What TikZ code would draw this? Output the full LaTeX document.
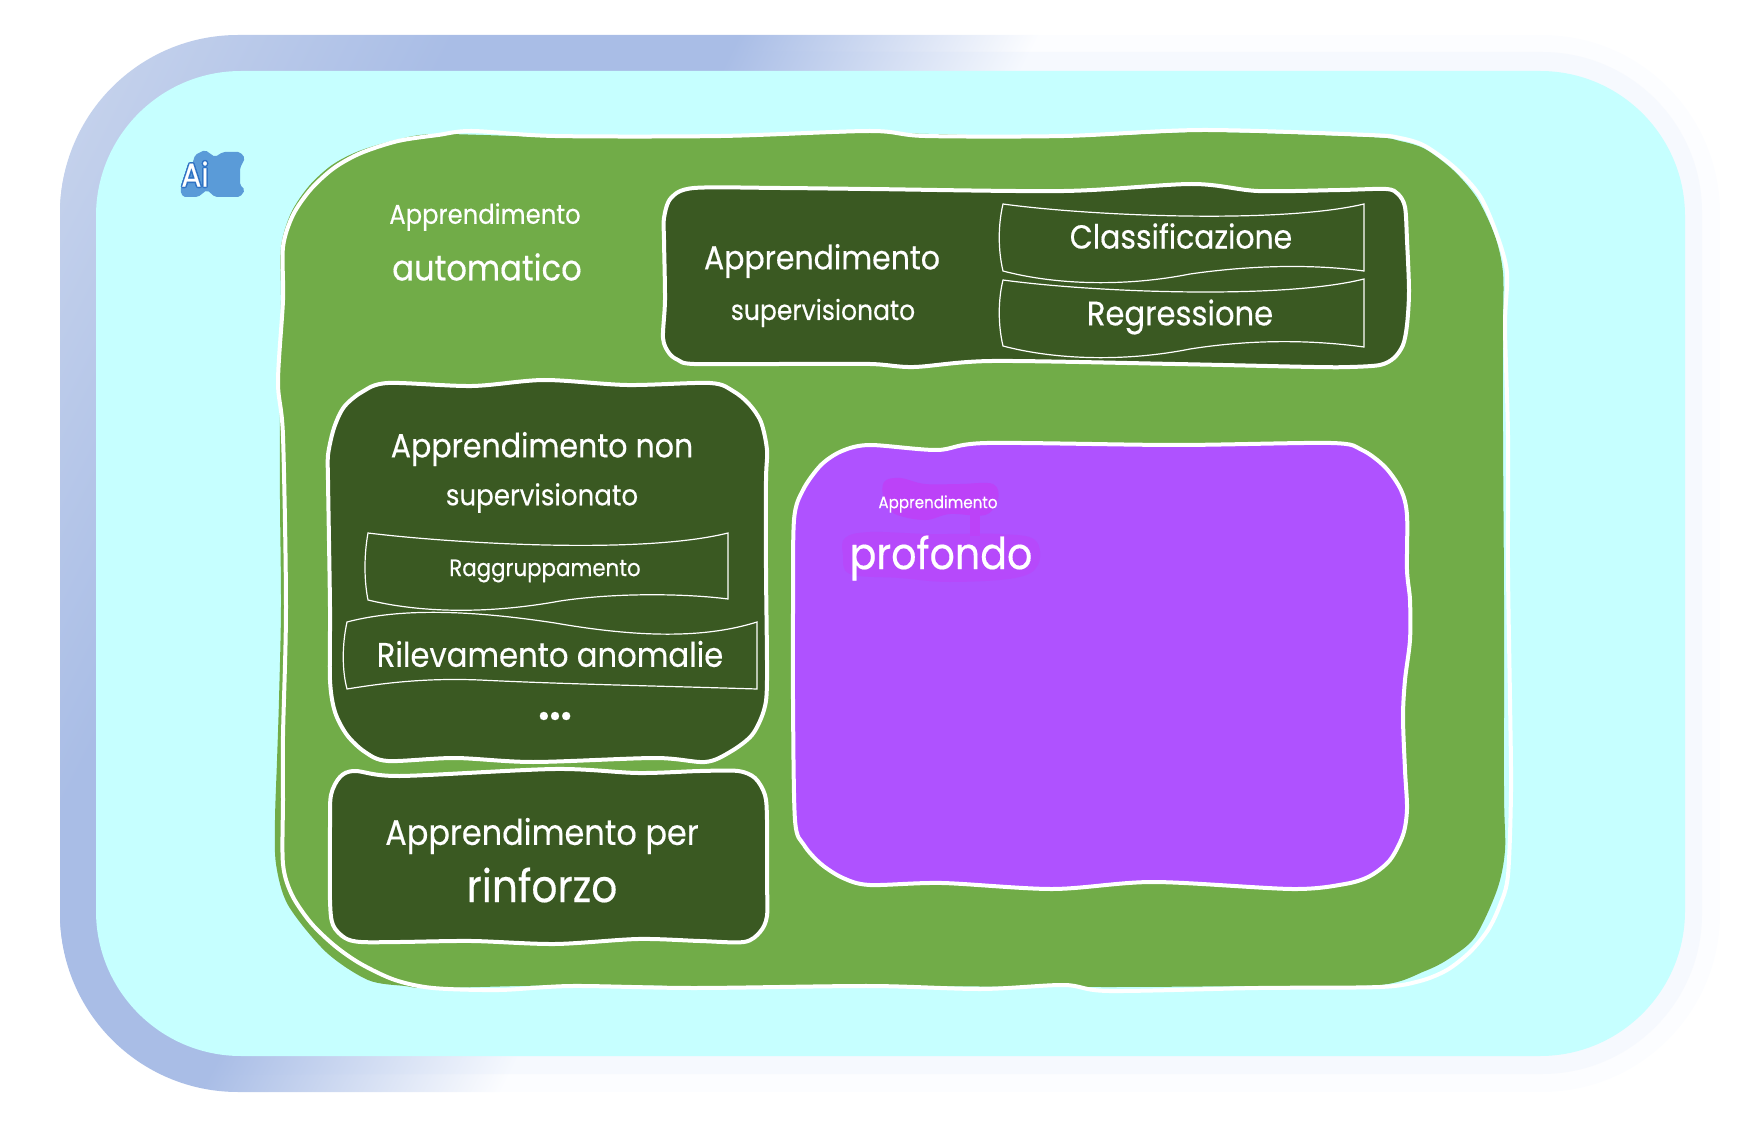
\documentclass[tikz,border=0pt]{standalone}
\usepackage{fontspec}
\setmainfont[FakeStretch=0.9,FakeBold=0.35]{Poppins}
\definecolor{cyanbg}{HTML}{C6FFFF}
\definecolor{leafgreen}{HTML}{71AC48}
\definecolor{darkgreen}{HTML}{3A5922}
\definecolor{violetbox}{HTML}{AF52FF}
\definecolor{violethalo}{HTML}{BC42F8}
\definecolor{logoblue}{HTML}{5A9BD8}
\definecolor{logoline}{HTML}{2F73C4}
\definecolor{frameA}{HTML}{C9D5EE}
\definecolor{frameB}{HTML}{C5D2EC}
\definecolor{frameC}{HTML}{A9BDE6}
\definecolor{frameD}{HTML}{FCFDFF}
\definecolor{frameE}{HTML}{F6F9FE}
\pgfdeclarehorizontalshading{frameouter}{100bp}{color(0bp)=(frameA); color(27bp)=(frameB); color(34.7bp)=(frameC); color(41bp)=(frameC); color(47.7bp)=(frameD); color(100bp)=(frameD)}
\pgfdeclarehorizontalshading{framemiddle}{100bp}{color(0bp)=(frameA); color(27bp)=(frameB); color(34.7bp)=(frameC); color(41bp)=(frameC); color(47.7bp)=(frameE); color(100bp)=(frameE)}
\tikzset{
  lab/.style={text=white, inner sep=0pt, font=\fontsize{#1}{#1}\selectfont},
  outlinebox/.style={draw=white, line width=4pt},
  bannerbox/.style={draw=white, line width=1.2pt},
  halo/.style={fill=violethalo},
}
\begin{document}
\begin{tikzpicture}[x=1pt,y=-1pt]
\useasboundingbox (0,0) rectangle (1741,1147);
% frame
\begin{scope}
  \clip[rounded corners=178pt] (60,35) rectangle (1720,1092);
  \shade[shading=frameouter, shading angle=-27] (-130,-430) rectangle (1870,1570);
\end{scope}
\begin{scope}
  \clip[rounded corners=160pt] (60,52) rectangle (1702,1074);
  \shade[shading=framemiddle, shading angle=-27] (-130,-430) rectangle (1870,1570);
\end{scope}
\fill[cyanbg, rounded corners=145pt] (96,71) rectangle (1685,1056);
% logo
\fill[logoblue, rounded corners=2pt] (195,155) -- (205,150) -- (215,157) -- (223,152) -- (240,152) -- (245,158) -- (240,168)
  -- (240,185) -- (245,190) -- (240,197) -- (215,197) -- (207,190) -- (198,197) -- (183,197) -- (180,190) -- (190,172) -- cycle;
\foreach \a in {0,45,...,315}
  \node[lab=33, text=logoline] at ([shift={(\a:1.5pt)}]195,174) {Ai};
\node[lab=33] (logo) at (195,174) {Ai};
% main green area
\fill[leafgreen] plot[smooth cycle, tension=0.5] coordinates {
  (281,300) (281,247) (291,213) (309,186) (332,165) (359,151) (396,140) (436,134) (555,137) (720,137) (870,133) (1064,137) (1203,132) (1369,137)
  (1400,141) (1425,149) (1453,170) (1477,198) (1495,236) (1503,273) (1503,330) (1503,436) (1504,600) (1504,791)
  (1505,850) (1497,890) (1475,937) (1450,958) (1425,971) (1380,985) (1258,986) (1109,987) (870,986) (694,986) (572,985) (433,988)
  (405,986) (368,980) (326,952) (288,905) (276,864) (275,820) (277,761) (279,700) (281,607) (280,500) (280,382)};
\draw[outlinebox] plot[smooth cycle, tension=0.5] coordinates {
  (283,300) (283,247) (293,215) (311,189) (334,168) (361,153) (398,141) (438,135) (472,131) (555,136) (721,136) (870,131) (925,136) (1064,136)
  (1203,130) (1369,135) (1400,138) (1425,146) (1455,168) (1480,196) (1497,235) (1507,273) (1505,327) (1508,436) (1508,570) (1510,700) (1511,791)
  (1508,875) (1500,905) (1488,930) (1470,952) (1447,970) (1420,981) (1380,987) (1258,988) (1109,991) (1064,985) (981,989) (870,986) (694,988)
  (572,986) (499,990) (433,988) (395,980) (361,964) (335,946) (311,923) (292,895) (283,864) (283,800) (283,736) (286,607) (283,436) (278,382)};
% supervised box
\draw[outlinebox, fill=darkgreen] plot[smooth cycle, tension=0.5] coordinates {
  (664,240) (664,218) (671,198) (694,188) (780,188) (870,189) (1064,191) (1192,184) (1258,191) (1340,190) (1386,189) (1398,194) (1405,207) (1407,240) (1409,291) (1407,325) (1403,345)
  (1394,358) (1380,365) (1350,367) (1314,367) (1175,364) (992,361) (914,367) (870,364) (780,364) (694,364) (678,360) (669,353) (663,338) (665,300)};
\draw[bannerbox] (1003,204) .. controls (1090,216) and (1280,224) .. (1364,204) -- (1364,271)
  .. controls (1320,265) and (1260,264) .. (1190,274) .. controls (1130,286) and (1060,286) .. (1003,271)
  .. controls (998,250) and (998,225) .. cycle;
\draw[bannerbox] (1003,280) .. controls (1090,292) and (1280,300) .. (1364,279) -- (1364,347)
  .. controls (1320,341) and (1260,338) .. (1190,349) .. controls (1130,361) and (1060,361) .. (1003,346)
  .. controls (998,325) and (998,300) .. cycle;
% unsupervised box
\draw[outlinebox, fill=darkgreen] plot[smooth cycle, tension=0.5] coordinates {
  (328,480) (328,455) (334,428) (344,407) (362,392) (388,383) (472,386) (544,380) (627,385) (710,383) (733,391) (749,404) (761,422) (767,450) (766,480) (766,570) (767,680) (764,710) (752,735)
  (730,752) (705,762) (655,758) (533,762) (455,758) (388,761) (365,752) (347,735) (335,712) (330,680) (330,607)};
\draw[bannerbox] (368,533) .. controls (450,543) and (640,555) .. (728,533) -- (728,599)
  .. controls (690,594) and (620,592) .. (560,601) .. controls (500,612) and (430,615) .. (368,600)
  .. controls (364,580) and (364,555) .. cycle;
\draw[bannerbox] (347,622) .. controls (400,608) and (470,610) .. (555,623) .. controls (630,636) and (700,640) .. (757,622) -- (757,689)
  .. controls (660,686) and (560,684) .. (480,680) .. controls (430,678) and (390,682) .. (347,689)
  .. controls (342,670) and (342,645) .. cycle;
% reinforcement box
\draw[outlinebox, fill=darkgreen] plot[smooth cycle, tension=0.5] coordinates {
  (330,827) (331,795) (340,777) (355,771) (400,776) (555,769) (638,773) (700,771) (738,771) (755,778) (765,795) (767,820) (767,880) (767,916) (760,932) (744,942) (700,941) (638,939) (555,944) (472,941) (400,942) (361,942)
  (345,938) (333,925) (330,900)};
% deep learning box
\draw[outlinebox, fill=violetbox] plot[smooth cycle, tension=0.5] coordinates {
  (794,520) (803,490) (821,465) (842,451) (870,445) (937,450) (987,443) (1175,445) (1331,443) (1362,450) (1385,467) (1401,490) (1407,515) (1407,570) (1410,600) (1410,640) (1405,680) (1403,717)
  (1405,770) (1407,809) (1403,835) (1390,860) (1370,876) (1345,884) (1292,889) (1153,882) (1053,889) (942,883) (870,885) (843,878) (821,864) (804,845) (795,820) (793,700) (793,612)};
\fill[halo] plot[smooth cycle, tension=0.6] coordinates {
  (884,482) (900,478) (925,484) (960,484) (993,484) (998,500) (985,515) (950,514) (925,520) (895,514) (884,500)};
\fill[halo] (970,515) rectangle (980,536);
\fill[halo, fill opacity=0.55] plot[smooth cycle, tension=0.6] coordinates {
  (845,538) (870,532) (930,534) (1000,534) (1035,540) (1038,565) (1015,578) (950,582) (900,578) (850,574) (843,555)};
% labels
\node[lab=27] (autotop) at (485,217) {Apprendimento};
\node[lab=35.8] (autobottom) at (487,267) {automatico};
\node[lab=33.3] (suptop) at (822,261) {Apprendimento};
\node[lab=27.8] (supbottom) at (823,313) {supervisionato};
\node[lab=33.2] (classif) at (1181,236) {Classificazione};
\node[lab=34] (regress) at (1180,317) {Regressione};
\node[lab=33.4] (unsuptop) at (542,449) {Apprendimento non};
\node[lab=29] (unsupbottom) at (542,498) {supervisionato};
\node[lab=23.7] (cluster) at (545,571) {Raggruppamento};
\node[lab=34.1] (anomaly) at (550,654) {Rilevamento anomalie};
\node[lab=44, font=\fontsize{44}{44}\selectfont\bfseries] (moredots) at (555,716) {...};
\node[lab=35.5] (reinftop) at (542,836) {Apprendimento per};
\node[lab=45.3] (reinfbottom) at (542,885) {rinforzo};
\node[lab=16.8] (deeptop) at (938,504) {Apprendimento};
\node[lab=44] (deepbottom) at (941,558) {profondo};
\end{tikzpicture}
\end{document}
